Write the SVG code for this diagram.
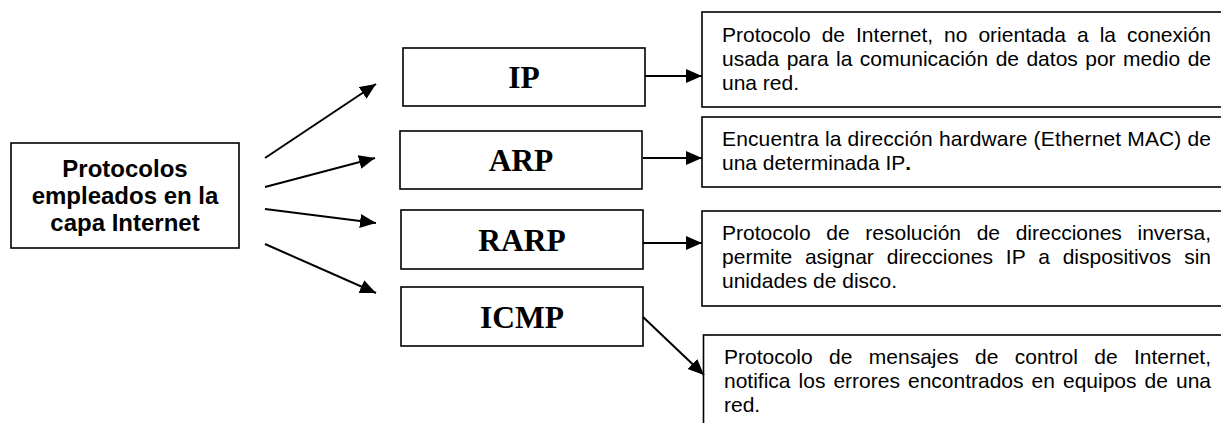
<svg xmlns="http://www.w3.org/2000/svg" width="1221" height="423" viewBox="0 0 1221 423">
  <defs>
    <marker id="arrow" markerUnits="userSpaceOnUse" markerWidth="18" markerHeight="15" refX="16" refY="7" orient="auto">
      <path d="M0,0 L16,7 L0,14 Z" fill="#000"/>
    </marker>
    <style>
      rect.box { fill: #fff; stroke: #000; stroke-width: 1.6; }
      .root { font-family: "Liberation Sans", Arial, sans-serif; font-weight: bold; font-size: 24px; text-anchor: middle; fill: #000; }
      .proto { font-family: "Liberation Serif", "Times New Roman", serif; font-weight: bold; font-size: 31.5px; text-anchor: middle; fill: #000; }
      .desc { font-family: "Liberation Sans", Arial, sans-serif; font-size: 21px; fill: #000; }
      .conn line { stroke: #000; stroke-width: 2; marker-end: url(#arrow); }
    </style>
  </defs>

  <rect width="1221" height="423" fill="#fff"/>

  <!-- source node -->
  <g id="node-capa-internet">
    <rect class="box" x="11" y="143" width="228" height="105"/>
    <text class="root" x="125" y="177">Protocolos</text>
    <text class="root" x="125" y="204">empleados en la</text>
    <text class="root" x="125" y="231">capa Internet</text>
  </g>

  <!-- protocol nodes -->
  <g id="node-ip">
    <rect class="box" x="403" y="48" width="242" height="58"/>
    <text class="proto" x="524" y="88">IP</text>
  </g>
  <g id="node-arp">
    <rect class="box" x="400" y="131" width="242" height="58"/>
    <text class="proto" x="521" y="171">ARP</text>
  </g>
  <g id="node-rarp">
    <rect class="box" x="401" y="210" width="242" height="59"/>
    <text class="proto" x="522" y="251">RARP</text>
  </g>
  <g id="node-icmp">
    <rect class="box" x="401" y="287" width="242" height="59"/>
    <text class="proto" x="522" y="328">ICMP</text>
  </g>

  <!-- description nodes (justified lines: word-spacing plus a fixed line length) -->
  <g id="desc-ip">
    <rect class="box" x="702" y="12" width="540" height="95"/>
    <text class="desc" x="722" y="42" word-spacing="5.16" textLength="489" lengthAdjust="spacing">Protocolo de Internet, no orientada a la conexión</text>
    <text class="desc" x="722" y="66" word-spacing="1.6" textLength="489" lengthAdjust="spacing">usada para la comunicación de datos por medio de</text>
    <text class="desc" x="722" y="90">una red.</text>
  </g>
  <g id="desc-arp">
    <rect class="box" x="702" y="117" width="540" height="70"/>
    <text class="desc" x="722" y="146" textLength="489" lengthAdjust="spacing">Encuentra la dirección hardware (Ethernet MAC) de</text>
    <text class="desc" x="722" y="170">una determinada IP<tspan font-weight="bold">.</tspan></text>
  </g>
  <g id="desc-rarp">
    <rect class="box" x="702" y="211" width="540" height="95"/>
    <text class="desc" x="722" y="240" word-spacing="9.8" textLength="489" lengthAdjust="spacing">Protocolo de resolución de direcciones inversa,</text>
    <text class="desc" x="722" y="264" word-spacing="7.0" textLength="489" lengthAdjust="spacing">permite asignar direcciones IP a dispositivos sin</text>
    <text class="desc" x="722" y="288">unidades de disco.</text>
  </g>
  <g id="desc-icmp">
    <rect class="box" x="703.5" y="335" width="540" height="110"/>
    <text class="desc" x="724" y="364" word-spacing="10.55" textLength="487" lengthAdjust="spacing">Protocolo de mensajes de control de Internet,</text>
    <text class="desc" x="724" y="388" word-spacing="2.2" textLength="487" lengthAdjust="spacing">notifica los errores encontrados en equipos de una</text>
    <text class="desc" x="724" y="412">red.</text>
  </g>

  <!-- connectors -->
  <g id="connectors" class="conn">
    <line x1="265" y1="158" x2="376" y2="84"/>
    <line x1="265" y1="187" x2="375" y2="158"/>
    <line x1="265" y1="209" x2="376" y2="223"/>
    <line x1="265" y1="244" x2="376" y2="293"/>
    <line x1="645" y1="76" x2="702" y2="76"/>
    <line x1="643" y1="158" x2="702" y2="158"/>
    <line x1="643" y1="243" x2="702" y2="243"/>
    <line x1="643" y1="317" x2="704" y2="375"/>
  </g>
</svg>
